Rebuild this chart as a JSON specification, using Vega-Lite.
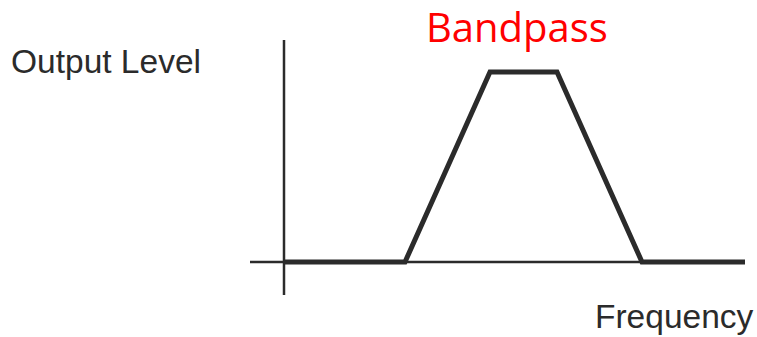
{
  "$schema": "https://vega.github.io/schema/vega-lite/v6.json",
  "width": 757,
  "height": 337,
  "padding": 0,
  "autosize": {"type": "fit", "contains": "padding"},
  "background": "white",
  "config": {"view": {"stroke": null}},
  "datasets": {
    "axes": [
      {"name": "level", "x": 284, "x2": 284, "y": 42, "y2": 297},
      {"name": "frequency", "x": 250, "x2": 745, "y": 75, "y2": 75}
    ],
    "response": [
      {"i": 1, "f": 284, "level": 75},
      {"i": 2, "f": 405, "level": 75},
      {"i": 3, "f": 490, "level": 265},
      {"i": 4, "f": 557, "level": 265},
      {"i": 5, "f": 642, "level": 75},
      {"i": 6, "f": 745, "level": 75}
    ],
    "labels": [
      {"label": "Output Level", "x": 11, "y": 264, "kind": "axis"},
      {"label": "Frequency", "x": 595, "y": 9, "kind": "axis"},
      {"label": "Bandpass", "x": 426, "y": 295, "kind": "title"}
    ]
  },
  "layer": [
    {
      "data": {"name": "axes"},
      "mark": {"type": "rule", "color": "#2b2b2b", "strokeWidth": 2.5},
      "encoding": {
        "x": {"field": "x", "type": "quantitative", "scale": {"domain": [0, 757], "nice": false, "zero": false}, "axis": null},
        "x2": {"field": "x2"},
        "y": {"field": "y", "type": "quantitative", "scale": {"domain": [0, 337], "nice": false, "zero": false}, "axis": null},
        "y2": {"field": "y2"}
      }
    },
    {
      "data": {"name": "response"},
      "mark": {"type": "line", "color": "#2b2b2b", "strokeWidth": 5, "strokeJoin": "miter"},
      "encoding": {
        "x": {"field": "f", "type": "quantitative", "scale": {"domain": [0, 757], "nice": false, "zero": false}, "axis": null},
        "y": {"field": "level", "type": "quantitative", "scale": {"domain": [0, 337], "nice": false, "zero": false}, "axis": null},
        "order": {"field": "i"}
      }
    },
    {
      "data": {"name": "labels"},
      "transform": [{"filter": "datum.kind === 'axis'"}],
      "mark": {"type": "text", "align": "left", "baseline": "alphabetic", "font": "Liberation Sans", "fontSize": 33.5, "color": "#2b2b2b"},
      "encoding": {
        "x": {"field": "x", "type": "quantitative", "scale": {"domain": [0, 757], "nice": false, "zero": false}, "axis": null},
        "y": {"field": "y", "type": "quantitative", "scale": {"domain": [0, 337], "nice": false, "zero": false}, "axis": null},
        "text": {"field": "label"}
      }
    },
    {
      "data": {"name": "labels"},
      "transform": [{"filter": "datum.kind === 'title'"}],
      "mark": {"type": "text", "align": "left", "baseline": "alphabetic", "font": "Open Sans", "fontSize": 40, "color": "#ff0000"},
      "encoding": {
        "x": {"field": "x", "type": "quantitative", "scale": {"domain": [0, 757], "nice": false, "zero": false}, "axis": null},
        "y": {"field": "y", "type": "quantitative", "scale": {"domain": [0, 337], "nice": false, "zero": false}, "axis": null},
        "text": {"field": "label"}
      }
    }
  ]
}
